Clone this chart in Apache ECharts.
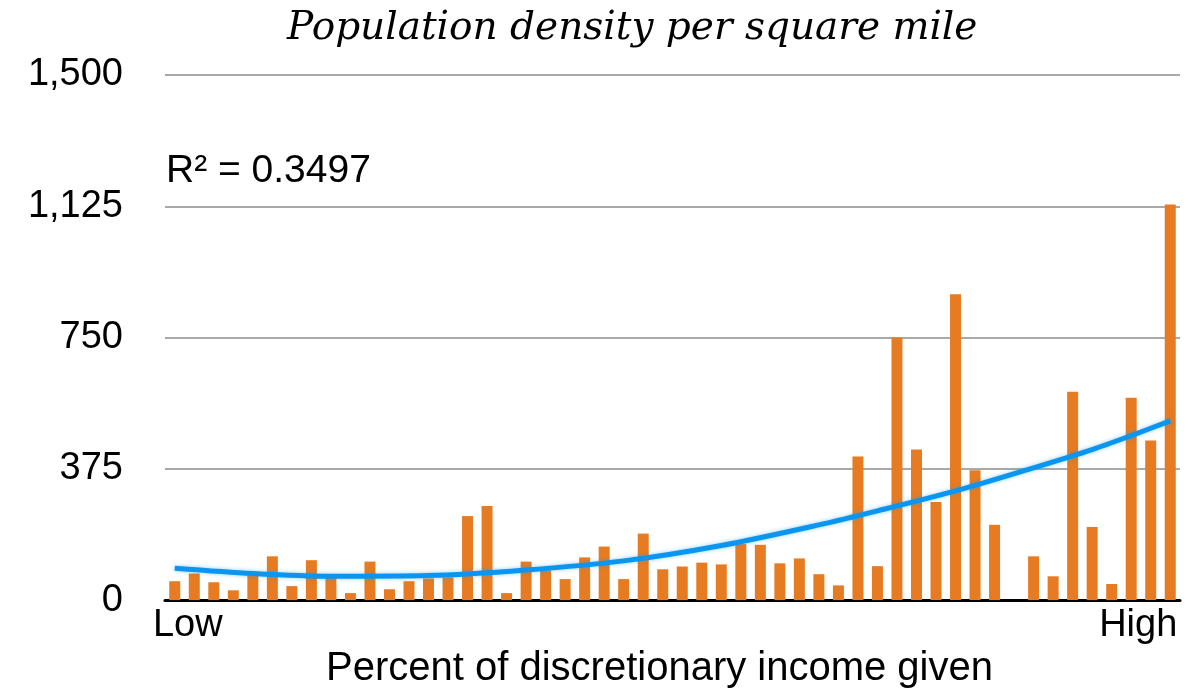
<!DOCTYPE html>
<html>
<head>
<meta charset="utf-8">
<script src="https://cdn.jsdelivr.net/npm/echarts@6/dist/echarts.min.js"></script>
<style>
    html, body { margin: 0; padding: 0; background: #fff; }
    #chart { width: 1203px; height: 694px; }
</style>
</head>
<body>
<div id="chart"></div>
<script>
// population density per square mile, one bar per group (low -> high giving)
var density = [
    54, 76, 51, 28, 70, 125, 40, 114, 65, 20, 110, 31, 54, 62, 65, 240, 269, 20,
    110, 85, 60, 122, 153, 60, 190, 88, 96, 107, 102, 160, 158, 105, 119, 74, 42,
    410, 97, 750, 430, 280, 874, 371, 215, 0, 125, 68, 595, 209, 46, 578, 456, 1130
];
// x tick labels, only the two ends are named
var xLabels = density.map(function (v, i) {
    if (i === 0) return "Low";
    if (i === density.length - 1) return "High";
    return "";
});
// polynomial trendline at some categories
var trendIdx = [0, 4, 8, 13, 18, 23, 28, 33, 36, 40, 44, 47, 49, 51];
var trendVal = [91, 76, 68, 70, 86, 112, 156, 215, 255, 312, 378, 430, 470, 512];
var yTicks = [0, 375, 750, 1125, 1500];

var sans = "Liberation Sans";

var chart = echarts.init(document.getElementById("chart"));
chart.setOption({
    animation: false,
    title: {
        text: "Population density per square mile",
        left: 282,
        top: 4,
        textStyle: {
            fontFamily: "DejaVu Serif",
            fontStyle: "italic",
            fontWeight: "normal",
            fontSize: 39,
            color: "#000"
        }
    },
    graphic: [{
        type: "text",
        left: 166,
        top: 152,
        style: {
            text: "R² = 0.3497",
            font: "39px " + sans,
            fill: "#000"
        }
    }],
    grid: {
        left: 165,
        right: 23,
        top: 75,
        bottom: 91,
        containLabel: false
    },
    xAxis: {
        type: "category",
        data: xLabels.map(function (t) {
            if (t === "Low") return { value: t, textStyle: { padding: [0, 0, 0, 26] } };
            if (t === "High") return { value: t, textStyle: { padding: [0, 64, 0, 0] } };
            return t;
        }),
        axisLine: { lineStyle: { color: "#000", width: 3 } },
        axisTick: { show: false },
        axisLabel: {
            interval: 0,
            margin: 6,
            fontFamily: sans,
            fontSize: 38,
            color: "#000"
        },
        name: "Percent of discretionary income given",
        nameLocation: "middle",
        nameGap: 41,
        nameTextStyle: {
            fontFamily: sans,
            fontSize: 40,
            color: "#000",
            padding: [0, 26, 0, 0]
        }
    },
    yAxis: {
        type: "value",
        min: yTicks[0],
        max: yTicks[yTicks.length - 1],
        interval: yTicks[1] - yTicks[0],
        axisLine: { show: false },
        axisTick: { show: false },
        splitLine: { lineStyle: { color: "#a9a9a9", width: 2 } },
        axisLabel: {
            margin: 42,
            fontFamily: sans,
            fontSize: 38,
            color: "#000",
            formatter: function (v) { return v.toLocaleString("en-US"); }
        }
    },
    series: [
        {
            type: "bar",
            data: density,
            barWidth: 11,
            itemStyle: { color: "#e67b22" }
        },
        {
            type: "line",
            data: trendIdx.map(function (x, i) { return [x, trendVal[i]]; }),
            smooth: 0.3,
            symbol: "none",
            z: 5,
            lineStyle: {
                color: "#0a96f0",
                width: 5,
                shadowBlur: 4,
                shadowColor: "rgba(10,150,240,0.45)"
            }
        }
    ]
});
</script>
</body>
</html>
